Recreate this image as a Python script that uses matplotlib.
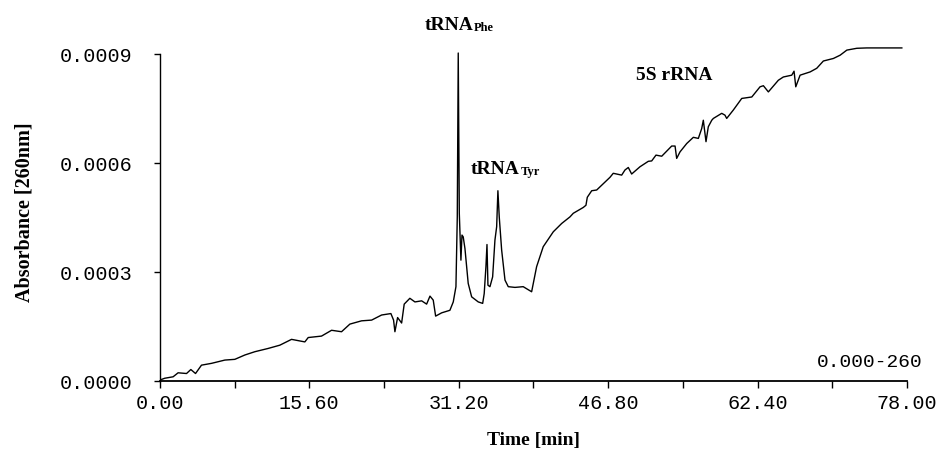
import matplotlib
matplotlib.use("Agg")
import matplotlib.pyplot as plt
from matplotlib.ticker import FixedLocator, FormatStrFormatter

# Time [min]
time_min = [0, 0.52, 1.39, 1.91, 2.79, 3.24, 3.73, 4.35, 5.40, 6.79, 7.83, 8.88, 9.92,
            11.31, 12.53, 13.75, 15.14, 15.49, 16.88, 17.93, 18.97, 19.84, 21.06, 22.11,
            23.15, 24.12, 24.40, 24.54, 24.82, 25.24, 25.51, 26.10, 26.63, 27.33, 27.85,
            28.20, 28.54, 28.79, 29.42, 30.28, 30.63, 30.91, 31.05, 31.15, 31.26, 31.43,
            31.54, 31.67, 31.85, 32.19, 32.55, 33.24, 33.70, 33.86, 34.04, 34.15, 34.25,
            34.46, 34.74, 34.98, 35.16, 35.29, 35.43, 35.68, 36.03, 36.37, 37.07, 37.93,
            38.81, 39.33, 40.02, 41.07, 41.95, 42.81, 43.16, 44.20, 44.48, 44.62, 45.08,
            45.60, 46.99, 47.33, 48.21, 48.55, 48.90, 49.25, 50.12, 50.99, 51.34, 51.79,
            52.39, 53.43, 53.78, 53.95, 54.30, 55.00, 55.69, 56.21, 56.56, 56.73, 57.01,
            57.25, 57.61, 57.78, 58.65, 58.99, 59.17, 59.86, 60.74, 61.79, 62.65, 63.00,
            63.52, 64.56, 65.08, 65.96, 66.20, 66.38, 66.83, 67.88, 68.57, 69.26, 70.31,
            71.01, 71.71, 72.75, 73.79, 77.45]

# Absorbance, in units of 1e-4
absorbance_e4 = [0.03, 0.08, 0.12, 0.23, 0.21, 0.32, 0.21, 0.44, 0.49, 0.58, 0.60, 0.72, 0.81,
                 0.90, 0.99, 1.15, 1.08, 1.20, 1.24, 1.40, 1.36, 1.57, 1.66, 1.68,
                 1.82, 1.86, 1.68, 1.36, 1.75, 1.60, 2.12, 2.28, 2.18, 2.21, 2.12,
                 2.34, 2.23, 1.79, 1.88, 1.95, 2.18, 2.60, 4.52, 9.03, 4.62, 3.33,
                 4.02, 3.97, 3.65, 2.69, 2.32, 2.18, 2.14, 2.41, 3.15, 3.76, 2.64,
                 2.60, 2.87, 3.88, 4.25, 5.24, 4.52, 3.61, 2.78, 2.60, 2.58, 2.60,
                 2.46, 3.15, 3.70, 4.11, 4.34, 4.52, 4.62, 4.78, 4.84, 5.06, 5.24,
                 5.26, 5.61, 5.72, 5.67, 5.81, 5.88, 5.70, 5.90, 6.05, 6.06, 6.22,
                 6.19, 6.47, 6.47, 6.13, 6.31, 6.54, 6.71, 6.68, 6.95, 7.18, 6.59,
                 7.00, 7.18, 7.23, 7.37, 7.32, 7.23, 7.46, 7.78, 7.82, 8.10, 8.13,
                 7.96, 8.28, 8.37, 8.42, 8.53, 8.10, 8.42, 8.51, 8.61, 8.81, 8.88,
                 8.97, 9.11, 9.16, 9.17, 9.17]

x_major = [0.0, 15.6, 31.2, 46.8, 62.4, 78.0]
x_minor = [7.8, 23.4, 39.0, 54.6, 70.2]
y_ticks = [0.0, 0.0003, 0.0006, 0.0009]

absorbance = [v * 1e-4 for v in absorbance_e4]

mono = "Liberation Mono"
serif = "Liberation Serif"

fig = plt.figure(figsize=(9.4, 4.5), dpi=100)
ax = fig.add_axes([0.170, 0.153, 0.795, 0.751])

ax.plot(time_min, absorbance, color="black", lw=1.0)

ax.set_xlim(0, 78)
ax.set_ylim(0, 0.00093)

for s in ["top", "right"]:
    ax.spines[s].set_visible(False)
ax.spines["left"].set_bounds(0, 0.0009)
ax.spines["left"].set_linewidth(1.0)
ax.spines["bottom"].set_linewidth(1.3)

ax.xaxis.set_major_locator(FixedLocator(x_major))
ax.xaxis.set_minor_locator(FixedLocator(x_minor))
ax.xaxis.set_major_formatter(FormatStrFormatter("%.2f"))
ax.yaxis.set_major_locator(FixedLocator(y_ticks))
ax.yaxis.set_major_formatter(FormatStrFormatter("%.4f"))

ax.tick_params(axis="x", which="both", direction="out", length=5, width=1.0, pad=4)
ax.tick_params(axis="y", which="major", direction="out", length=4, width=1.0, pad=16)
for lab in ax.get_xticklabels() + ax.get_yticklabels():
    lab.set_fontfamily(mono)
    lab.set_fontsize(14.5)

ax.set_xlabel("Time [min]", fontfamily=serif, fontweight="bold", fontsize=14, labelpad=14)
ax.set_ylabel("Absorbance [260nm]", fontfamily=serif, fontweight="bold", fontsize=14.5, labelpad=18)

# annotations
t1 = ax.text(32.7, 0.000955, "tRNA", fontfamily=serif, fontweight="bold", fontsize=14,
             ha="right", va="bottom", clip_on=False)
ax.annotate("Phe", xy=(1, 0), xycoords=t1, xytext=(0.5, 0), textcoords="offset points",
            fontfamily=serif, fontweight="bold", fontsize=9, va="bottom", ha="left")

t2 = ax.text(37.6, 0.00056, "tRNA", fontfamily=serif, fontweight="bold", fontsize=14,
             ha="right", va="bottom")
ax.annotate("Tyr", xy=(1, 0), xycoords=t2, xytext=(0.5, 0), textcoords="offset points",
            fontfamily=serif, fontweight="bold", fontsize=9, va="bottom", ha="left")

ax.text(53.7, 0.00084, "5S rRNA", fontfamily=serif, fontweight="bold", fontsize=14,
        ha="center", va="center")

ax.text(1.021, 0.056, "0.000-260", transform=ax.transAxes, fontfamily=mono, fontsize=14,
        ha="right", va="center", clip_on=False)

fig.savefig("out.png", dpi=100)
